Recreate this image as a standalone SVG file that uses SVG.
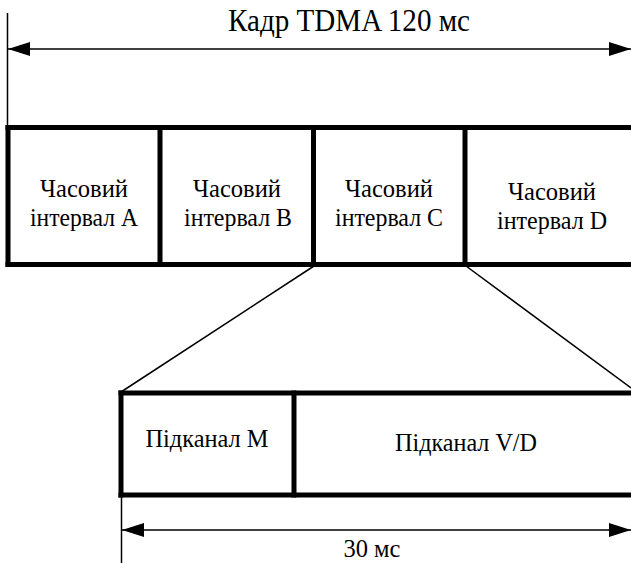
<svg xmlns="http://www.w3.org/2000/svg" width="631" height="563" viewBox="0 0 631 563">
<style>
  text { font-family: 'Liberation Serif', 'DejaVu Serif', serif; fill: #000; text-anchor: middle; font-size: 26px; }
  .thick { stroke: #000; stroke-width: 5; fill: none; }
  .thin { stroke: #000; stroke-width: 1.5; fill: none; }
</style>
<defs>
  <marker id="ah" viewBox="0 0 22 14" refX="22" refY="7" markerWidth="22" markerHeight="14" markerUnits="userSpaceOnUse" orient="auto-start-reverse">
    <path d="M0,0 L22,7 L0,14 Z" fill="#000"/>
  </marker>
</defs>
<rect width="631" height="563" fill="#fff"/>
<g id="connectors">
  <line class="thin" x1="7.5" y1="13" x2="7.5" y2="127"/>
  <line class="thin" x1="8" y1="49" x2="631" y2="49" marker-start="url(#ah)" marker-end="url(#ah)"/>
  <line class="thin" x1="314" y1="266" x2="121" y2="392"/>
  <line class="thin" x1="466" y1="266" x2="631" y2="388"/>
  <line class="thin" x1="121.5" y1="495" x2="121.5" y2="563"/>
  <line class="thin" x1="122" y1="530" x2="631" y2="530" marker-start="url(#ah)" marker-end="url(#ah)"/>
</g>
<g id="title">
  <text x="349" y="31" style="font-size:32px" textLength="242" lengthAdjust="spacingAndGlyphs">Кадр TDMA 120 мс</text>
</g>
<g id="frame">
  <line class="thick" x1="5.5" y1="127.5" x2="631" y2="127.5"/>
  <line class="thick" x1="5.5" y1="264.5" x2="631" y2="264.5"/>
  <line class="thick" x1="8" y1="125" x2="8" y2="267"/>
</g>
<g id="slot-a">
  <text x="84" y="197" textLength="88" lengthAdjust="spacingAndGlyphs">Часовий</text>
  <text x="84" y="226" textLength="108" lengthAdjust="spacingAndGlyphs">інтервал A</text>
</g>
<g id="slot-b">
  <line class="thick" x1="160" y1="125" x2="160" y2="267"/>
  <text x="237" y="197" textLength="88" lengthAdjust="spacingAndGlyphs">Часовий</text>
  <text x="238" y="226" textLength="108" lengthAdjust="spacingAndGlyphs">інтервал B</text>
</g>
<g id="slot-c">
  <line class="thick" x1="313.5" y1="125" x2="313.5" y2="267"/>
  <text x="389" y="197" textLength="88" lengthAdjust="spacingAndGlyphs">Часовий</text>
  <text x="389" y="226" textLength="108" lengthAdjust="spacingAndGlyphs">інтервал C</text>
</g>
<g id="slot-d">
  <line class="thick" x1="465" y1="125" x2="465" y2="267"/>
  <text x="552" y="200" textLength="88" lengthAdjust="spacingAndGlyphs">Часовий</text>
  <text x="552" y="229" textLength="110" lengthAdjust="spacingAndGlyphs">інтервал D</text>
</g>
<g id="subframe">
  <line class="thick" x1="118.5" y1="393" x2="631" y2="393"/>
  <line class="thick" x1="118.5" y1="495" x2="631" y2="495"/>
  <line class="thick" x1="121" y1="390.5" x2="121" y2="497.5"/>
</g>
<g id="sub-m">
  <text x="207" y="447" textLength="123" lengthAdjust="spacingAndGlyphs">Підканал М</text>
</g>
<g id="sub-vd">
  <line class="thick" x1="294" y1="390.5" x2="294" y2="497.5"/>
  <text x="466" y="451" textLength="142" lengthAdjust="spacingAndGlyphs">Підканал V/D</text>
</g>
<g id="duration">
  <text x="372" y="557" textLength="57" lengthAdjust="spacingAndGlyphs">30 мс</text>
</g>
</svg>
